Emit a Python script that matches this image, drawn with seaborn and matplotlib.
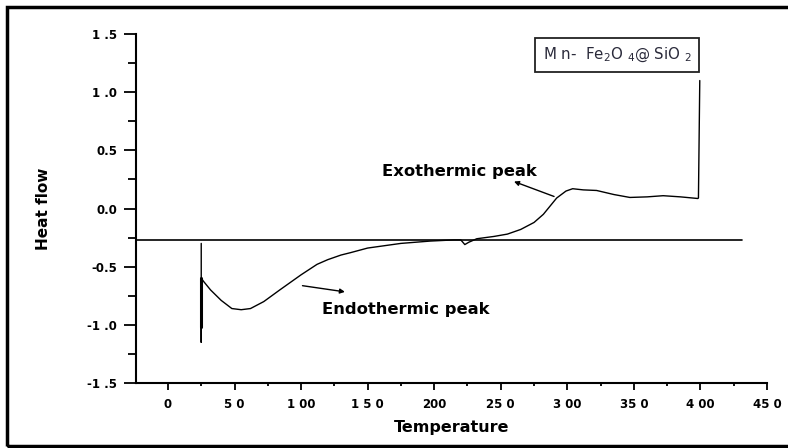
import matplotlib
matplotlib.use("Agg")
import matplotlib.pyplot as plt
import matplotlib.patches as mpatches
import seaborn as sns
import pandas as pd
from matplotlib.ticker import MultipleLocator

# Data
temperature = [25, 25, 25, 25, 27, 32, 40, 48, 55, 62, 72, 84, 100, 112, 120, 130,
               137, 150, 175, 197, 215, 220, 223, 226, 232, 245, 255, 265, 275,
               282, 292, 299, 304, 312, 322, 335, 347, 360, 372, 385, 398, 398.5, 399.5]
heat_flow = [-0.30, -1.15, -1.00, -0.60, -0.63, -0.70, -0.79, -0.86, -0.87, -0.86,
             -0.80, -0.70, -0.57, -0.48, -0.44, -0.40, -0.38, -0.34, -0.30, -0.28,
             -0.27, -0.27, -0.31, -0.29, -0.26, -0.24, -0.22, -0.18, -0.12,
             -0.05, 0.09, 0.15, 0.17, 0.16, 0.155, 0.12, 0.095, 0.10, 0.11, 0.10, 0.086, 0.09, 1.10]
baseline_y = -0.27
baseline_x = [-24, 431]
x_ticks = [0, 50, 100, 150, 200, 250, 300, 350, 400, 450]
x_ticklabels = ["0", "5 0", "1 00", "1 5 0", "200", "25 0", "3 00", "35 0", "4 00", "45 0"]
y_ticks = [1.5, 1.0, 0.5, 0.0, -0.5, -1.0, -1.5]
y_ticklabels = ["1 .5", "1 .0", "0.5", "0.0", "-0.5", "-1 .0", "-1 .5"]
sample_label = "M n-  Fe$_{2}$O $_{4}$@ SiO $_{2}$"

df = pd.DataFrame({"Temperature": temperature, "Heat flow": heat_flow})

sns.set_theme(style="ticks")
plt.rcParams["font.family"] = ["DejaVu Sans"]
plt.rcParams["text.color"] = "black"
plt.rcParams["axes.labelcolor"] = "black"
plt.rcParams["xtick.color"] = "black"
plt.rcParams["ytick.color"] = "black"

fig = plt.figure(figsize=(7.88, 4.48), dpi=100)
ax = fig.add_axes([136/788, 1-383/448, (767-136)/788, (383-34)/448])

sns.lineplot(data=df, x="Temperature", y="Heat flow", sort=False, estimator=None,
             color="black", linewidth=1.0, ax=ax)
# thicker part of the initial spike
ax.plot([25, 25], [-0.60, -1.02], color="black", linewidth=2.2)
ax.plot(baseline_x, [baseline_y, baseline_y], color="black", linewidth=1.2)

ax.set_xlim(-24, 450)
ax.set_ylim(-1.5, 1.5)
ax.set_xticks(x_ticks)
ax.set_xticklabels(x_ticklabels)
ax.set_yticks(y_ticks)
ax.set_yticklabels(y_ticklabels)
ax.xaxis.set_minor_locator(MultipleLocator(25))
ax.yaxis.set_minor_locator(MultipleLocator(0.25))
ax.tick_params(axis="x", which="major", length=5, width=1.3, direction="out", labelsize=8.5, pad=6, colors="black")
ax.tick_params(axis="x", which="minor", length=2.5, width=1.3, direction="out", colors="black")
ax.tick_params(axis="y", which="major", length=8.5, width=1.3, direction="out", labelsize=8.5, pad=5, colors="black")
ax.tick_params(axis="y", which="minor", length=5.5, width=1.3, direction="out", colors="black")
for lab in ax.get_xticklabels() + ax.get_yticklabels():
    lab.set_fontweight("bold")
for s in ["top", "right"]:
    ax.spines[s].set_visible(False)
for s in ["left", "bottom"]:
    ax.spines[s].set_linewidth(1.5)
    ax.spines[s].set_color("black")

ax.set_xlabel("Temperature", fontsize=11.5, fontweight="bold", labelpad=6, color="black")
ax.set_ylabel("Heat flow", fontsize=11, fontweight="bold", labelpad=26, color="black")

ax.annotate("", xy=(258, 0.24), xytext=(292, 0.095),
            arrowprops=dict(arrowstyle="-|>", color="black", lw=1.0, mutation_scale=7))
ax.text(161, 0.32, "Exothermic peak", fontsize=11.8, fontweight="bold", va="center", ha="left", color="black")
ax.annotate("", xy=(135, -0.72), xytext=(99, -0.66),
            arrowprops=dict(arrowstyle="-|>", color="black", lw=1.0, mutation_scale=7))
ax.text(116, -0.87, "Endothermic peak", fontsize=11.8, fontweight="bold", va="center", ha="left", color="black")

fig.text(617/788, 1-55/448, sample_label, fontsize=10.8, color="#2a2a3a",
         ha="center", va="center",
         bbox=dict(boxstyle="square,pad=0.5", facecolor="white", edgecolor="#222222", lw=1.3))

fig.patches.append(mpatches.Rectangle((7/788, 1-446/448), 790/788, (446-7)/448,
                                      transform=fig.transFigure, fill=False,
                                      edgecolor="black", linewidth=2.5))

fig.savefig("out.png", dpi=100)
